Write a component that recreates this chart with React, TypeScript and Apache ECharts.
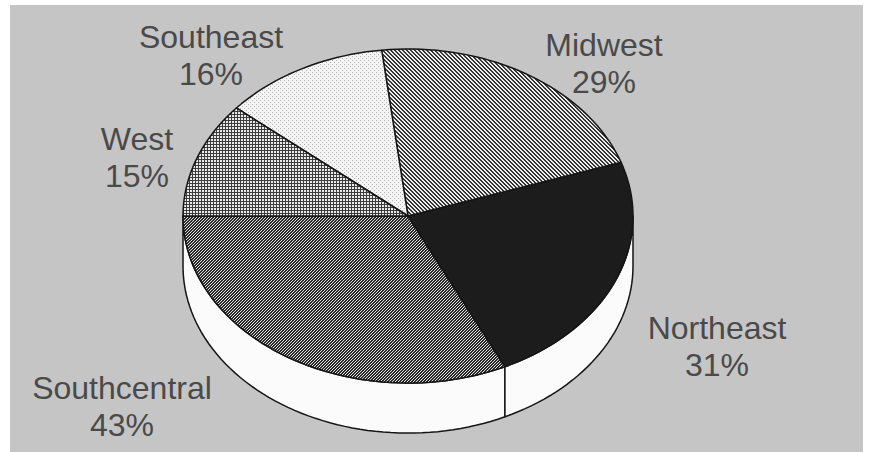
import React, { useEffect, useRef } from "react";
import * as echarts from "echarts";

// Data (counter-clockwise from the left edge of the pie)
const regions = ["Southcentral", "Northeast", "Midwest", "Southeast", "West"];
const shares = [43, 31, 29, 16, 15];
const fills = ["diagDense", "solid", "diagSteep", "stipple", "grid"];

const START_ANGLE = 180;
const DEPTH = 0.3; // side thickness, in y-axis units

// label anchor points (layout only)
const LABEL_AT: Record<string, [number, number]> = {
  Southcentral: [122, 406],
  Northeast: [717, 346],
  Midwest: [604, 63],
  Southeast: [211, 55],
  West: [137, 157],
};

function makeTile(kind: string): any {
  if (kind === "solid") return "#1c1c1c";
  const size = kind === "diagSteep" || kind === "stipple" ? 4 : 6;
  const c = document.createElement("canvas");
  c.width = size;
  c.height = size;
  const ctx = c.getContext("2d")!;
  const img = ctx.createImageData(size, size);
  for (let y = 0; y < size; y++) {
    for (let x = 0; x < size; x++) {
      let v = 240;
      if (kind === "diagDense") {
        v = ((x + y) % 3) < 2 ? 40 : 225;
      } else if (kind === "diagSteep") {
        v = (((x - y) % 4) + 4) % 4 < 2 ? 55 : 235;
      } else if (kind === "grid") {
        v = x % 3 === 0 || y % 3 === 0 ? 60 : 235;
      } else if (kind === "stipple") {
        v = (x % 4 === 0 && y % 4 === 0) || (x % 4 === 2 && y % 4 === 2) ? 175 : 245;
      }
      const i = (y * size + x) * 4;
      img.data[i] = v;
      img.data[i + 1] = v;
      img.data[i + 2] = v;
      img.data[i + 3] = 255;
    }
  }
  ctx.putImageData(img, 0, 0);
  return { image: c, repeat: "repeat", imageWidth: size, imageHeight: size };
}

export default function App() {
  const ref = useRef<HTMLDivElement>(null);
  useEffect(() => {
    if (!ref.current) return;
    const chart = echarts.init(ref.current, null, { renderer: "svg" });
    const total = shares.reduce((a, b) => a + b, 0);
    let acc = START_ANGLE;
    const data = shares.map((v, i) => {
      const s = acc;
      const e = acc + (v / total) * 360;
      acc = e;
      return { value: [s, e, i], name: regions[i] };
    });
    const patternFills = fills.map(makeTile);

    const rad = (d: number) => (d * Math.PI) / 180;
    const textStyle = {
      align: "center",
      verticalAlign: "middle",
      fill: "#4a4a4a",
      font: '32px "Liberation Sans", Arial, sans-serif',
    };

    const labels: any[] = [];
    regions.forEach((name, i) => {
      const [lx, ly] = LABEL_AT[name];
      labels.push({
        type: "text",
        x: lx,
        y: ly - 18.5,
        silent: true,
        style: { ...textStyle, text: name },
      });
      labels.push({
        type: "text",
        x: lx,
        y: ly + 18.5,
        silent: true,
        style: { ...textStyle, text: `${shares[i]}%` },
      });
    });

    const option: any = {
      animation: false,
      backgroundColor: "#ffffff",
      grid: { left: 183, top: 49, width: 450, height: 334 },
      xAxis: { type: "value", min: -1, max: 1, show: false },
      yAxis: { type: "value", min: -1, max: 1, show: false },
      graphic: [
        {
          type: "rect",
          z: -10,
          silent: true,
          shape: { x: 10, y: 5, width: 853, height: 447 },
          style: { fill: "#c5c5c5" },
        },
        ...labels,
      ],
      series: [
        {
          type: "custom",
          coordinateSystem: "cartesian2d",
          clip: false,
          data,
          renderItem: (params: any, api: any) => {
            const s = api.value(0) as number;
            const e = api.value(1) as number;
            const idx = params.dataIndex;
            const children: any[] = [];
            // front side band
            const fs = Math.max(s, 180);
            const fe = Math.min(e, 360);
            if (fe > fs) {
              const n = Math.max(2, Math.ceil((fe - fs) / 2));
              const top: number[][] = [];
              const bot: number[][] = [];
              for (let k = 0; k <= n; k++) {
                const a = rad(fs + ((fe - fs) * k) / n);
                top.push(api.coord([Math.cos(a), Math.sin(a)]));
                bot.push(api.coord([Math.cos(a), Math.sin(a) - DEPTH]));
              }
              children.push({
                type: "polygon",
                shape: { points: top.concat(bot.reverse()) },
                style: { fill: "#fbfbfb", stroke: "#151515", lineWidth: 1.5, lineJoin: "round" },
              });
            }
            // top face wedge
            const n = Math.max(2, Math.ceil((e - s) / 2));
            const pts: number[][] = [api.coord([0, 0])];
            for (let k = 0; k <= n; k++) {
              const a = rad(s + ((e - s) * k) / n);
              pts.push(api.coord([Math.cos(a), Math.sin(a)]));
            }
            children.push({
              type: "polygon",
              shape: { points: pts },
              style: { fill: patternFills[idx], stroke: "#151515", lineWidth: 1.5, lineJoin: "round" },
            });
            return { type: "group", children };
          },
        },
      ],
    };
    chart.setOption(option);
    return () => chart.dispose();
  }, []);
  return (
    <div
      ref={ref}
      style={{ position: "fixed", left: 0, top: 0, width: 870, height: 452 }}
    />
  );
}
